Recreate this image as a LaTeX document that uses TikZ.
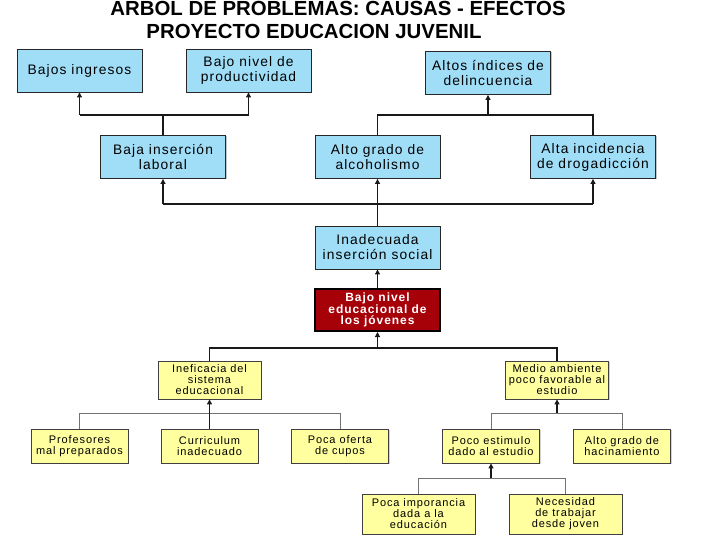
\documentclass[tikz,border=0pt]{standalone}
\usepackage{fontspec}
\setmainfont{Liberation Sans}
\newfontfamily\boxfont[LetterSpace=8]{Liberation Sans}
\usetikzlibrary{arrows.meta,shadows}
\definecolor{sky}{RGB}{160,222,247}
\definecolor{cream}{RGB}{255,255,160}
\definecolor{wine}{RGB}{166,0,8}
\tikzset{
  effect/.style={draw=black!85, line width=0.9pt, fill=sky, align=center,
    minimum width=125pt, minimum height=43pt, inner sep=1pt,
    font=\boxfont\fontsize{13.8}{15}\selectfont,
    drop shadow={shadow xshift=1pt, shadow yshift=-1pt, fill=black!45}},
  core/.style={draw=black, line width=2pt, fill=wine, text=white, align=center,
    minimum width=125pt, minimum height=42pt, inner sep=1pt,
    font=\boxfont\bfseries\fontsize{12}{11.5}\selectfont},
  cause/.style={draw=black!75, line width=0.8pt, fill=cream, align=center,
    minimum width=97pt, minimum height=34pt, inner sep=1pt,
    font=\boxfont\fontsize{11}{11}\selectfont,
    drop shadow={shadow xshift=1pt, shadow yshift=-1pt, fill=black!35}},
  link/.style={line width=1.1pt, black!90},
  twig/.style={line width=0.8pt, black!55},
  up/.style={-{Triangle[width=5pt,length=5pt]}},
  heading/.style={font=\bfseries\fontsize{20.4}{24}\selectfont, anchor=base}
}

\begin{document}
\begin{tikzpicture}[x=1pt, y=-1pt]
  \useasboundingbox (0,0) rectangle (720,540);

  % titles
  \node[heading] (titulo) at (338,16) {ARBOL DE PROBLEMAS: CAUSAS - EFECTOS};
  \node[heading] (proyecto) at (314,39) {PROYECTO EDUCACION JUVENIL};

  % efectos
  \node[effect] (ingresos) at (79.5,70.5) {Bajos ingresos};
  \node[effect] (productividad) at (248.5,70.5) {Bajo nivel de\\productividad};
  \node[effect] (delincuencia) at (488,73) {Altos índices de\\delincuencia};
  \node[effect] (laboral) at (163,157) {Baja inserción\\laboral};
  \node[effect] (alcoholismo) at (377.5,157) {Alto grado de\\alcoholismo};
  \node[effect] (drogadiccion) at (593,157) {Alta incidencia\\de drogadicción};
  \node[effect] (social) at (377.5,247.5) {Inadecuada\\inserción social};

  % problema central
  \node[core] (nucleo) at (377.5,310) {Bajo nivel\\educacional de\\los jóvenes};

  % causas
  \node[cause, minimum width=103pt, minimum height=38pt] (ineficacia) at (209.5,380)
    {Ineficacia del\\sistema\\educacional};
  \node[cause, minimum width=103pt, minimum height=38pt] (medio) at (557,380)
    {Medio ambiente\\poco favorable al\\estudio};
  \node[cause] (profesores) at (79.5,446) {Profesores\\mal preparados};
  \node[cause] (curriculum) at (209.5,446) {Curriculum\\inadecuado};
  \node[cause] (cupos) at (340,446) {Poca oferta\\de cupos};
  \node[cause] (estimulo) at (491,446) {Poco estimulo\\dado al estudio};
  \node[cause] (hacinamiento) at (622,446) {Alto grado de\\hacinamiento};
  \node[cause, minimum width=113pt, minimum height=40pt] (importancia) at (418.5,514)
    {Poca imporancia\\dada a la\\educación};
  \node[cause, minimum width=113pt, minimum height=40pt] (trabajar) at (565.5,514)
    {Necesidad\\de trabajar\\desde joven};

  % junction levels
  \coordinate (jtop) at (0,115);
  \coordinate (jmid) at (0,204);
  \coordinate (jcore) at (0,348);
  \coordinate (jleft) at (0,413);
  \coordinate (jlow) at (0,478);

  % upper tree
  \draw[link] (laboral.north) -- (laboral.north |- jtop);
  \draw[link] (ingresos.south |- jtop) -- (productividad.south |- jtop);
  \draw[link,up] (ingresos.south |- jtop) -- (ingresos.south);
  \draw[link,up] (productividad.south |- jtop) -- (productividad.south);
  \draw[link] (alcoholismo.north) -- (alcoholismo.north |- jtop)
    -- (drogadiccion.north |- jtop) -- (drogadiccion.north);
  \draw[link,up] (delincuencia.south |- jtop) -- (delincuencia.south);
  \draw[link] (laboral.south |- jmid) -- (drogadiccion.south |- jmid);
  \draw[link,up] (laboral.south |- jmid) -- (laboral.south);
  \draw[link,up] (drogadiccion.south |- jmid) -- (drogadiccion.south);
  \draw[link,up] (social.north) -- (alcoholismo.south);
  \draw[link,up] (nucleo.north) -- (social.south);

  % lower tree
  \draw[link] (ineficacia.north) -- (ineficacia.north |- jcore)
    -- (medio.north |- jcore) -- (medio.north);
  \draw[link,up] (nucleo.south |- jcore) -- (nucleo.south);
  \draw[twig] (profesores.north) -- (profesores.north |- jleft)
    -- (cupos.north |- jleft) -- (cupos.north);
  \draw[link,up] (curriculum.north) -- (ineficacia.south);
  \draw[twig] (estimulo.north) -- (estimulo.north |- jleft)
    -- (hacinamiento.north |- jleft) -- (hacinamiento.north);
  \draw[link,up] (medio.south |- jleft) -- (medio.south);
  \draw[twig] (importancia.north) -- (importancia.north |- jlow)
    -- (trabajar.north |- jlow) -- (trabajar.north);
  \draw[link,up] (estimulo.south |- jlow) -- (estimulo.south);
\end{tikzpicture}
\end{document}
